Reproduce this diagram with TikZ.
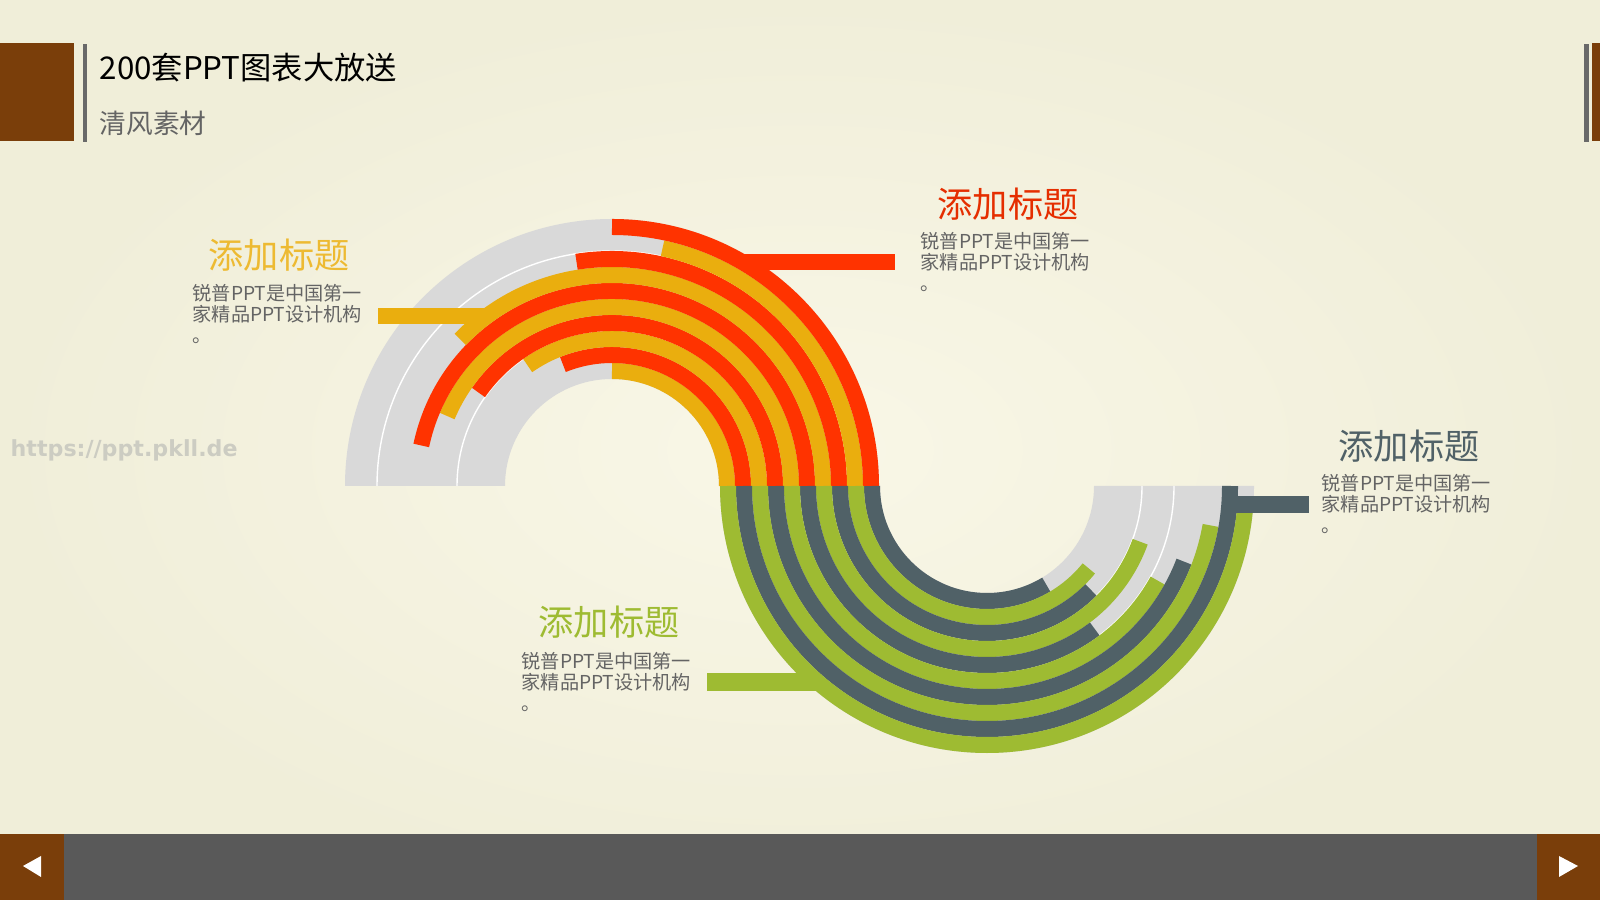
\documentclass[tikz,border=0pt]{standalone}
\usepackage{fontspec}
\setmainfont{Noto Sans CJK SC}
\newfontfamily\wmfont{DejaVu Sans}
\usepackage{xcolor}
\usepackage{tikz}
\usetikzlibrary{positioning}
\definecolor{bgin}{RGB}{249,247,231}
\definecolor{bgout}{RGB}{240,238,217}
\definecolor{brn}{RGB}{122,62,10}
\definecolor{barGray}{RGB}{89,89,89}
\definecolor{lineGray}{RGB}{105,105,105}
\definecolor{ringGray}{RGB}{217,217,217}
\definecolor{txtGray}{RGB}{100,100,100}
\definecolor{wmGray}{RGB}{204,204,194}
\definecolor{cRed}{RGB}{255,51,0}
\definecolor{cYel}{RGB}{234,174,14}
\definecolor{cGrn}{RGB}{158,187,50}
\definecolor{cDrk}{RGB}{80,97,103}
\tikzset{
  band/.style={line width=1.6mm},
  sep/.style={draw=white, line width=0.4pt},
  lead/.style={fill=#1},
  hd/.style={font=\fontsize{10}{12}\selectfont, text=#1, inner sep=0pt},
  txt/.style={font=\fontsize{5.45}{6}\selectfont, text=txtGray, align=left,
              anchor=west, inner sep=0pt},
  tri/.style={fill=white}
}

\begin{document}
\begin{tikzpicture}[x=0.01cm, y=0.01cm]
  \useasboundingbox (0,0) rectangle (1600,900);
  \shade[inner color=bgin, outer color=bgout] (0,0) rectangle (1600,900);

  % header
  \fill[brn] (0,759) rectangle (74,857);
  \fill[lineGray] (83,758) rectangle (87,856);
  \fill[lineGray] (1584,758) rectangle (1589,856);
  \fill[brn] (1592,759) rectangle (1600,857);
  \node[anchor=west, inner sep=0pt, font=\fontsize{8.9}{10}\selectfont] (ttl) at (99,832) {200套PPT图表大放送};
  \node[anchor=west, inner sep=0pt, font=\fontsize{7.6}{9}\selectfont, text=txtGray] (sub) at (99,777) {清风素材};

  \node[anchor=west, inner sep=0pt, font=\wmfont\bfseries\fontsize{6.3}{7}\selectfont, text=wmGray] (wm) at (10,450) {https://ppt.pkll.de};

  \coordinate (ctop) at (612,414);
  \coordinate (cbot) at (987,414);

  % gray rings
  \fill[ringGray] (ctop) ++(0:267) arc[start angle=0, end angle=180, radius=267]
    -- ++(160,0) arc[start angle=180, end angle=0, radius=107] -- cycle;
  \fill[ringGray] (cbot) ++(180:267) arc[start angle=180, end angle=360, radius=267]
    -- ++(-160,0) arc[start angle=0, end angle=-180, radius=107] -- cycle;
  \foreach \r in {155,235}
    \draw[sep] (ctop) ++(180:\r) arc[start angle=180, end angle=0, radius=\r];
  \foreach \r in {155,187}
    \draw[sep] (cbot) ++(180:\r) arc[start angle=180, end angle=360, radius=\r];

  % leader bars
  \fill[lead=cYel] (378,576) rectangle (490,592);
  \fill[lead=cRed] (742,630) rectangle (895,646);
  \fill[lead=cGrn] (707,209) rectangle (818,227);

  % upper arcs
  \foreach \k/\a/\c [evaluate=\k as \r using 99+16*\k] in
    {1/90/cYel, 2/112/cRed, 3/125/cYel, 4/145/cRed, 5/157/cYel,
     6/168/cRed, 7/136/cYel, 8/99/cRed, 9/78/cYel, 10/90/cRed}
    \draw[band, \c] (ctop) ++(\a:\r) arc[start angle=\a, end angle=0, radius=\r];

  % lower arcs
  \foreach \k/\b/\c [evaluate=\k as \r using 99+16*\k] in
    {1/301/cDrk, 2/321/cGrn, 3/315/cDrk, 4/340/cGrn, 5/307/cDrk,
     6/331/cGrn, 7/339/cDrk, 8/350/cGrn, 9/360/cDrk, 10/355/cGrn}
    \draw[band, \c] (cbot) ++(180:\r) arc[start angle=180, end angle=\b, radius=\r];

  \fill[lead=cDrk] (1231,387) rectangle (1309,404);

  % labels
  \node[hd=cYel!85!white] (hYel) at (279,645) {添加标题};
  \node[txt] (bYel) at (192,586) {锐普PPT是中国第一\\家精品PPT设计机构\\。};
  \node[hd=cRed!90!black] (hRed) at (1008,696) {添加标题};
  \node[txt] (bRed) at (920,638) {锐普PPT是中国第一\\家精品PPT设计机构\\。};
  \node[hd=cDrk] (hDrk) at (1409,454) {添加标题};
  \node[txt] (bDrk) at (1321,396) {锐普PPT是中国第一\\家精品PPT设计机构\\。};
  \node[hd=cGrn] (hGrn) at (609,278) {添加标题};
  \node[txt] (bGrn) at (521,218) {锐普PPT是中国第一\\家精品PPT设计机构\\。};

  % footer
  \fill[barGray] (0,0) rectangle (1600,66);
  \fill[brn] (0,0) rectangle (64,66);
  \fill[brn] (1537,0) rectangle (1600,66);
  \fill[tri] (23,34) -- (41,44) -- (41,23) -- cycle;
  \fill[tri] (1578,34) -- (1559,44) -- (1559,23) -- cycle;
\end{tikzpicture}
\end{document}
